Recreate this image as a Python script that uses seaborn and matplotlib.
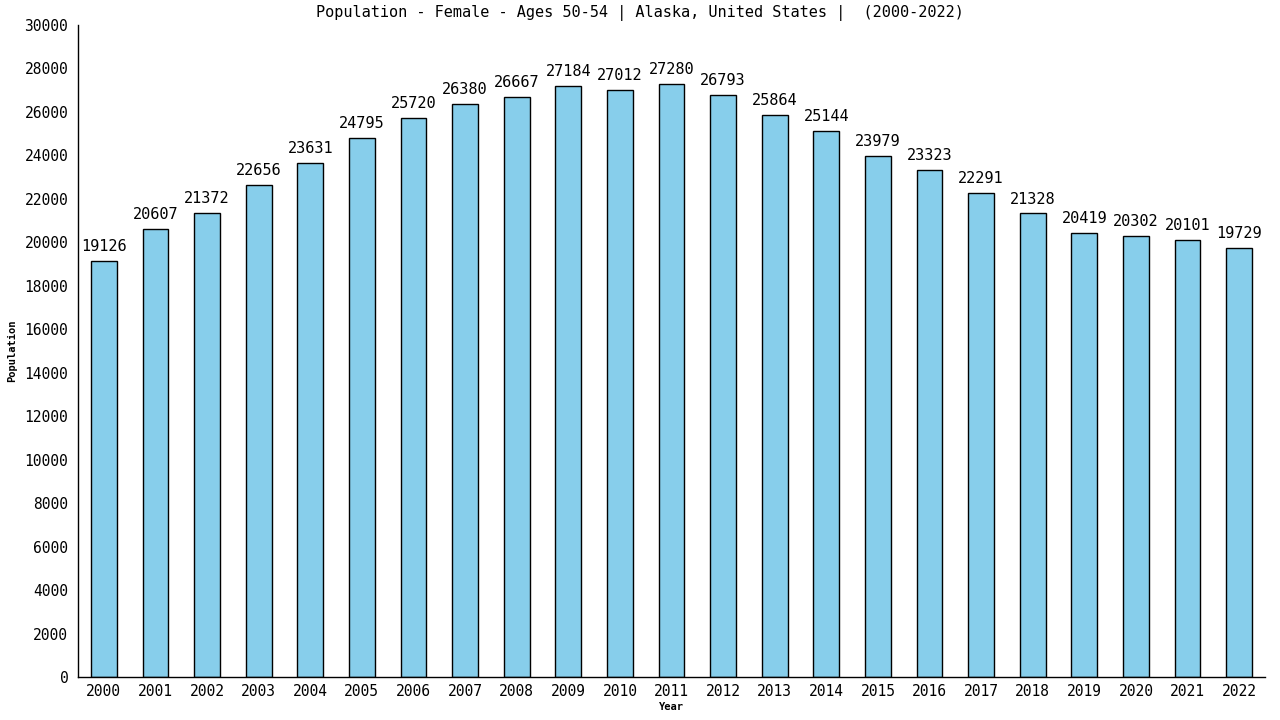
import pandas as pd
import numpy as np
import matplotlib.pyplot as plt
import seaborn as sns

# 数据
years = [str(y) for y in range(2000, 2023)]
population = [19126, 20607, 21372, 22656, 23631, 24795, 25720, 26380, 26667, 27184,
              27012, 27280, 26793, 25864, 25144, 23979, 23323, 22291, 21328, 20419,
              20302, 20101, 19729]

df = pd.DataFrame({'Year': years, 'Population': population})

sns.set_style('white')
plt.rcParams['font.family'] = ['DejaVu Sans Mono', 'DejaVu Sans']
plt.rcParams['text.color'] = 'black'

fig = plt.figure(figsize=(12.8, 7.2), dpi=100)
ax = fig.add_axes([78 / 1280, 1 - 677 / 720, (1265 - 78) / 1280, (677 - 25) / 720])

sns.barplot(data=df, x='Year', y='Population', color='#87CEEB', saturation=1,
            edgecolor='black', linewidth=1, width=0.5, ax=ax)

for i, v in enumerate(population):
    ax.annotate(str(v), (i, v), xytext=(0, 5), textcoords='offset points',
                ha='center', va='bottom', fontsize=11, color='black')

ax.set_xlim(-0.5, len(years) - 0.5)
ax.set_ylim(0, 30000)
ax.set_yticks(range(0, 30001, 2000))
ax.tick_params(axis='both', direction='out', length=4, width=1, labelsize=10.5,
               colors='black', pad=3)
ax.tick_params(axis='x', pad=1)
for s in ['top', 'right']:
    ax.spines[s].set_visible(False)
for s in ['left', 'bottom']:
    ax.spines[s].set_color('black')
    ax.spines[s].set_linewidth(1)

ax.set_xlabel('Year', fontsize=7.5, fontweight='bold', labelpad=2, color='black')
ax.set_ylabel('Population', fontsize=7.5, fontweight='bold', labelpad=5, color='black')
fig.text(0.5, 1 - 13 / 720, 'Population - Female - Ages 50-54 | Alaska, United States |  (2000-2022)',
         ha='center', va='center', fontsize=11, color='black')

fig.savefig('out.png', dpi=100)
